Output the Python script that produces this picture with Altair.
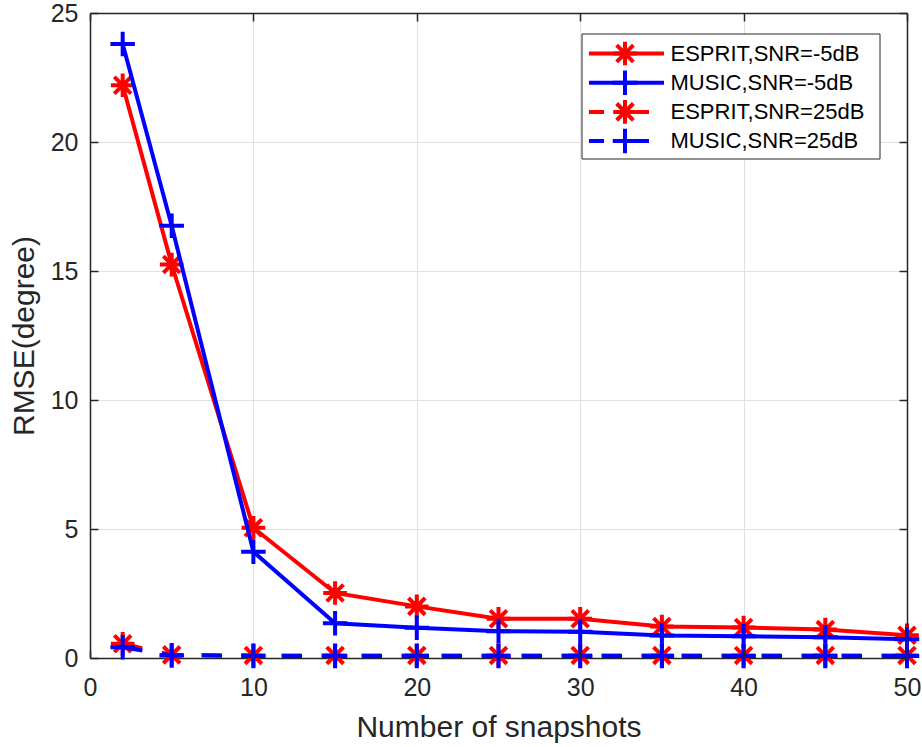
import altair as alt
import pandas as pd

# ---------------- data ----------------
snapshots = [2, 5, 10, 15, 20, 25, 30, 35, 40, 45, 50]
esprit_m5 = [22.2, 15.25, 5.05, 2.52, 2.0, 1.52, 1.52, 1.22, 1.18, 1.1, 0.88]
music_m5 = [23.8, 16.75, 4.12, 1.35, 1.17, 1.04, 1.02, 0.87, 0.84, 0.8, 0.73]
esprit_25 = [0.55, 0.12, 0.1, 0.1, 0.1, 0.1, 0.1, 0.1, 0.1, 0.1, 0.1]
music_25 = [0.42, 0.1, 0.08, 0.08, 0.08, 0.08, 0.08, 0.08, 0.08, 0.08, 0.08]
series_names = ["ESPRIT,SNR=-5dB", "MUSIC,SNR=-5dB", "ESPRIT,SNR=25dB", "MUSIC,SNR=25dB"]
x_ticks = [0, 10, 20, 30, 40, 50]
y_ticks = [0, 5, 10, 15, 20, 25]

series_values = [esprit_m5, music_m5, esprit_25, music_25]
rows = []
for name, vals in zip(series_names, series_values):
    for xv, yv in zip(snapshots, vals):
        rows.append({"snapshots": xv, "rmse": yv, "series": name})
df = pd.DataFrame(rows)

# ---------------- style ----------------
W, H = 817, 645
FONT = "Liberation Sans, Arial, Helvetica, sans-serif"
AXC = "#262626"
RED = "#FF0000"
BLUE = "#0000FF"
ASTERISK = "M-1,0L1,0M0,-1L0,1M-0.707,-0.707L0.707,0.707M-0.707,0.707L0.707,-0.707"
PLUS = "M-1,0L1,0M0,-1L0,1"

styles = [
    dict(color=RED, shape=ASTERISK, size=560, mw=4, dash=None),
    dict(color=BLUE, shape=PLUS, size=600, mw=4, dash=None),
    dict(color=RED, shape=ASTERISK, size=560, mw=4, dash=[20, 20]),
    dict(color=BLUE, shape=PLUS, size=600, mw=4, dash=[20, 20]),
]
LW = 4

xscale = alt.Scale(domain=[0, 50], nice=False, zero=False)
yscale = alt.Scale(domain=[0, 25], nice=False, zero=False)

base = alt.Chart(df)

# main axes (labels, grid, bottom/left domain)
main_axes = base.mark_point(opacity=0).encode(
    x=alt.X("snapshots:Q", scale=xscale, axis=alt.Axis(
        orient="bottom", values=x_ticks, grid=True, gridColor="#e0e0e0", gridWidth=1,
        ticks=False, tickSize=0, domain=True, domainColor=AXC, domainWidth=1.5,
        labelFont=FONT, labelFontSize=25, labelColor=AXC, labelPadding=17,
        labelFlush=False, labelOverlap=False,
        title="Number of snapshots", titleFont=FONT, titleFontSize=30,
        titleFontWeight="normal", titleColor=AXC, titleY=54, titleBaseline="top",
        zindex=0)),
    y=alt.Y("rmse:Q", scale=yscale, axis=alt.Axis(
        orient="left", values=y_ticks, grid=True, gridColor="#e0e0e0", gridWidth=1,
        ticks=False, tickSize=0, domain=True, domainColor=AXC, domainWidth=1.5,
        labelFont=FONT, labelFontSize=25, labelColor=AXC, labelPadding=12,
        labelFlush=False, labelOverlap=False,
        title="RMSE(degree)", titleFont=FONT, titleFontSize=30,
        titleFontWeight="normal", titleColor=AXC, titleX=-57, titleBaseline="alphabetic",
        zindex=0)),
)

# inward ticks on bottom and left edges
ticks_a = base.mark_point(opacity=0).encode(
    x=alt.X("snapshots:Q", scale=xscale, axis=alt.Axis(
        orient="top", offset=-H, values=x_ticks, grid=False, labels=False,
        domain=False, ticks=True, tickSize=8, tickColor=AXC, tickWidth=1.5,
        title="", zindex=1)),
    y=alt.Y("rmse:Q", scale=yscale, axis=alt.Axis(
        orient="right", offset=-W, values=y_ticks, grid=False, labels=False,
        domain=False, ticks=True, tickSize=8, tickColor=AXC, tickWidth=1.5,
        title="", zindex=1)),
)

# inward ticks + border on top and right edges
ticks_b = base.mark_point(opacity=0).encode(
    x=alt.X("snapshots:Q", scale=xscale, axis=alt.Axis(
        orient="bottom", offset=-H, values=x_ticks, grid=False, labels=False,
        domain=True, domainColor=AXC, domainWidth=1.5, ticks=True, tickSize=8,
        tickColor=AXC, tickWidth=1.5, title="", zindex=1)),
    y=alt.Y("rmse:Q", scale=yscale, axis=alt.Axis(
        orient="left", offset=-W, values=y_ticks, grid=False, labels=False,
        domain=True, domainColor=AXC, domainWidth=1.5, ticks=True, tickSize=8,
        tickColor=AXC, tickWidth=1.5, title="", zindex=1)),
)

data_layers = []
for name, st in zip(series_names, styles):
    sub = base.transform_filter(alt.datum.series == name)
    line_kwargs = dict(color=st["color"], strokeWidth=LW)
    if st["dash"] is not None:
        line_kwargs["strokeDash"] = st["dash"]
    line = sub.mark_line(**line_kwargs).encode(
        x=alt.X("snapshots:Q", scale=xscale, axis=None),
        y=alt.Y("rmse:Q", scale=yscale, axis=None),
    )
    pts = sub.mark_point(shape=st["shape"], filled=False, size=st["size"],
                         strokeWidth=st["mw"], color=st["color"], opacity=1).encode(
        x=alt.X("snapshots:Q", scale=xscale, axis=None),
        y=alt.Y("rmse:Q", scale=yscale, axis=None),
    )
    data_layers += [line, pts]

# ---------------- legend (drawn manually) ----------------
OX, OY = 90, 13
legend_layers = [
    alt.Chart(pd.DataFrame({"k": [0]})).mark_rect(fill="white", stroke=AXC, strokeWidth=1).encode(
        x=alt.value(582 - OX), x2=alt.value(880 - OX),
        y=alt.value(34 - OY), y2=alt.value(159 - OY))
]
for i, (name, st) in enumerate(zip(series_names, styles)):
    ly = 53.5 + 29.2 * i - OY
    ldf = pd.DataFrame({"label": [name]})
    rk = dict(color=st["color"], strokeWidth=LW)
    if st["dash"] is not None:
        rk["strokeDash"] = [15, 30]
        x_end = 649
    else:
        x_end = 664
    legend_layers.append(alt.Chart(ldf).mark_rule(**rk).encode(
        x=alt.value(589 - OX), x2=alt.value(x_end - OX), y=alt.value(ly)))
    legend_layers.append(alt.Chart(ldf).mark_point(
        shape=st["shape"], filled=False, size=st["size"], strokeWidth=st["mw"],
        color=st["color"], opacity=1).encode(x=alt.value(625 - OX), y=alt.value(ly)))
    legend_layers.append(alt.Chart(ldf).mark_text(
        align="left", baseline="middle", font=FONT, fontSize=22, color="#000000").encode(
        x=alt.value(670.5 - OX), y=alt.value(ly), text="label:N"))

chart = alt.layer(main_axes, ticks_a, ticks_b, *data_layers, *legend_layers).resolve_axis(
    x="independent", y="independent"
).properties(
    width=W, height=H,
    autosize=alt.AutoSizeParams(type="none"),
    padding={"left": OX, "top": OY, "right": 922 - OX - W, "bottom": 747 - OY - H},
    background="white",
).configure_view(strokeWidth=0)

chart.save("out.html", embed_options={"renderer": "svg", "actions": False})
